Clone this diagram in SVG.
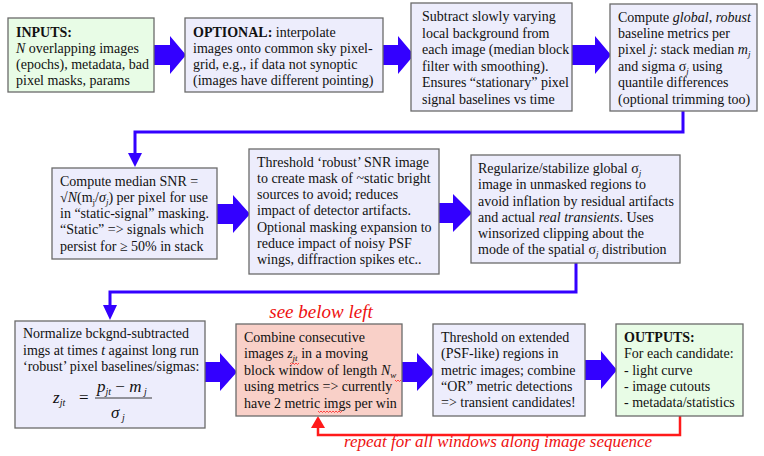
<svg xmlns="http://www.w3.org/2000/svg" width="764" height="456" viewBox="0 0 764 456">
<style>
.box{stroke:#6a6a6a;stroke-width:1.3}
.lav{fill:#ededfc}
.grn{fill:#e8fce6}
.pnk{fill:#f9d0c8}
text{font-family:"Liberation Serif","Times New Roman",serif;font-size:14px;fill:#111}
.b{font-weight:bold}
.i{font-style:italic}
.red{fill:#ee1111;font-style:italic;font-size:17px}
.big{font-size:19px}
.f{font-size:17px}
.conn{fill:none;stroke:#3300ff;stroke-width:3}
.ah{fill:#3300ff}
.rconn{fill:none;stroke:#ff1a1a;stroke-width:2.5}
.rah{fill:#ff1a1a}
.wavy{fill:none;stroke:#ff2020;stroke-width:0.8}
</style>

<g id="connectors">
<polygon class="ah" points="154,45 170,45 170,36 186,55 170,74 170,65 154,65"/>
<polygon class="ah" points="383,45 398,45 398,36 414,55 398,74 398,65 383,65"/>
<polygon class="ah" points="572,45 595,45 595,36 611,55 595,74 595,65 572,65"/>
<polygon class="ah" points="217,204 233,204 233,195 250,214 233,233 233,224 217,224"/>
<polygon class="ah" points="439,203 453,203 453,194 472,213 453,232 453,223 439,223"/>
<polygon class="ah" points="205,362 220,362 220,353 237,372 220,391 220,382 205,382"/>
<polygon class="ah" points="402,362 417,362 417,353 435,372 417,391 417,382 402,382"/>
<polygon class="ah" points="585,360 601,360 601,351 617,370 601,389 601,380 585,380"/>
<path class="conn" d="M683 111 V132 H135 V154"/>
<polygon class="ah" points="128,153 142,153 135,167"/>
<path class="conn" d="M576 263 V292 H110 V306"/>
<polygon class="ah" points="103,305 117,305 110,320"/>
<path class="rconn" d="M680 416 V435 H318 V427"/>
<polygon class="rah" points="311,428 325,428 318,416"/>
</g>

<g id="n-inputs">
<rect class="box grn" x="8" y="18" width="146" height="74"/>
<text x="16" y="37" class="b">INPUTS:</text>
<text x="16" y="53"><tspan class="i">N</tspan> overlapping images</text>
<text x="16" y="69">(epochs), metadata, bad</text>
<text x="16" y="85">pixel masks, params</text>
</g>

<g id="n-optional">
<rect class="box lav" x="185" y="18" width="198" height="74"/>
<text x="193" y="37"><tspan class="b">OPTIONAL:</tspan> interpolate</text>
<text x="193" y="53">images onto common sky pixel-</text>
<text x="193" y="69">grid, e.g., if data not synoptic</text>
<text x="193" y="85">(images have different pointing)</text>
</g>

<g id="n-subtract">
<rect class="box lav" x="411" y="3" width="161" height="108"/>
<text x="422" y="21">Subtract slowly varying</text>
<text x="422" y="38">local background from</text>
<text x="422" y="54">each image (median block</text>
<text x="422" y="71">filter with smoothing).</text>
<text x="422" y="87">Ensures “stationary” pixel</text>
<text x="422" y="104">signal baselines vs time</text>
</g>

<g id="n-global">
<rect class="box lav" x="610" y="4" width="147" height="107"/>
<text x="618" y="22">Compute <tspan class="i">global</tspan>, <tspan class="i">robust</tspan></text>
<text x="618" y="38">baseline metrics per</text>
<text x="618" y="54">pixel <tspan class="i">j</tspan>: stack median <tspan class="i">m</tspan><tspan class="i" font-size="9" dy="3">j</tspan></text>
<text x="618" y="71">and sigma σ<tspan class="i" font-size="9" dy="3">j</tspan><tspan dy="-3"> using</tspan></text>
<text x="618" y="87">quantile differences</text>
<text x="618" y="104">(optional trimming too)</text>
</g>

<g id="n-snr">
<rect class="box lav" x="52" y="168" width="165" height="91"/>
<text x="60" y="186">Compute median SNR =</text>
<text x="60" y="202">√<tspan class="i">N</tspan>(m<tspan font-size="9" dy="3">j</tspan><tspan dy="-3">/</tspan><tspan class="i">σ</tspan><tspan class="i" font-size="9" dy="3">j</tspan><tspan dy="-3">) per pixel for use</tspan></text>
<text x="60" y="218">in “static-signal” masking.</text>
<text x="60" y="234">“Static” =&gt; signals which</text>
<text x="60" y="251">persist for ≥ 50% in stack</text>
</g>

<g id="n-threshold-snr">
<rect class="box lav" x="249" y="149" width="190" height="125"/>
<text x="257" y="167">Threshold ‘robust’ SNR image</text>
<text x="257" y="183">to create mask of ~static bright</text>
<text x="257" y="199">sources to avoid; reduces</text>
<text x="257" y="215">impact of detector artifacts.</text>
<text x="257" y="232">Optional masking expansion to</text>
<text x="257" y="248">reduce impact of noisy PSF</text>
<text x="257" y="264">wings, diffraction spikes etc..</text>
</g>

<g id="n-regularize">
<rect class="box lav" x="471" y="155" width="209" height="108"/>
<text x="478" y="173">Regularize/stabilize global σ<tspan class="i" font-size="9" dy="3">j</tspan></text>
<text x="478" y="189">image in unmasked regions to</text>
<text x="478" y="206">avoid inflation by residual artifacts</text>
<text x="478" y="222">and actual <tspan class="i">real transients</tspan>. Uses</text>
<text x="478" y="238">winsorized clipping about the</text>
<text x="478" y="254">mode of the spatial σ<tspan class="i" font-size="9" dy="3">j</tspan><tspan dy="-3"> distribution</tspan></text>
</g>

<g id="n-normalize">
<rect class="box lav" x="15" y="321" width="190" height="107"/>
<text x="23" y="338">Normalize bckgnd-subtracted</text>
<text x="23" y="355">imgs at times <tspan class="i">t</tspan> against long run</text>
<text x="23" y="371">‘robust’ pixel baselines/sigmas:</text>
<text x="53" y="403" class="i f">z<tspan font-size="10" dy="3">jt</tspan></text>
<text x="79" y="403" class="f">=</text>
<text x="97" y="392" class="i f">p<tspan font-size="10" dy="3">jt</tspan><tspan dy="-3" font-style="normal"> − </tspan>m<tspan font-size="10" dy="3"> j</tspan></text>
<line x1="95" y1="398" x2="152" y2="398" stroke="#222" stroke-width="0.9"/>
<text x="111" y="418" class="i f">σ<tspan font-size="10" dy="3"> j</tspan></text>
</g>

<g id="n-combine">
<text x="321" y="318" class="red big" text-anchor="middle">see below left</text>
<rect class="box pnk" x="236" y="324" width="166" height="92"/>
<text x="244" y="342">Combine consecutive</text>
<text x="244" y="358">images <tspan class="i">z</tspan><tspan class="i" font-size="9" dy="3">jt</tspan><tspan dy="-3"> in a moving</tspan></text>
<text x="244" y="375">block window of length <tspan class="i">N</tspan><tspan class="i" font-size="9" dy="3">w</tspan></text>
<text x="244" y="391">using metrics =&gt; currently</text>
<text x="244" y="408">have 2 metric imgs per win</text>
<path class="wavy" d="M290 363 l1.5 1.5 l1.5 -1.5 l1.5 1.5 l1.5 -1.5 l1.5 1.5 l1.5 -1.5"/>
<path class="wavy" d="M395 380 l1.5 1.5 l1.5 -1.5 l1.5 1.5 l1.5 -1.5"/>
<path class="wavy" d="M318 411 l1.5 1.5 l1.5 -1.5 l1.5 1.5 l1.5 -1.5 l1.5 1.5 l1.5 -1.5 l1.5 1.5 l1.5 -1.5 l1.5 1.5 l1.5 -1.5 l1.5 1.5 l1.5 -1.5 l1.5 1.5 l1.5 -1.5 l1.5 1.5 l1.5 -1.5"/>
</g>

<g id="n-threshold-ext">
<rect class="box lav" x="433" y="324" width="152" height="92"/>
<text x="441" y="342">Threshold on extended</text>
<text x="441" y="358">(PSF-like) regions in</text>
<text x="441" y="375">metric images; combine</text>
<text x="441" y="391">“OR” metric detections</text>
<text x="441" y="407">=&gt; transient candidates!</text>
</g>

<g id="n-outputs">
<rect class="box grn" x="616" y="324" width="127" height="92"/>
<text x="624" y="342" class="b">OUTPUTS:</text>
<text x="624" y="358">For each candidate:</text>
<text x="624" y="375">- light curve</text>
<text x="624" y="391">- image cutouts</text>
<text x="624" y="407">- metadata/statistics</text>
</g>

<text x="498" y="447" class="red" text-anchor="middle">repeat for all windows along image sequence</text>
</svg>
